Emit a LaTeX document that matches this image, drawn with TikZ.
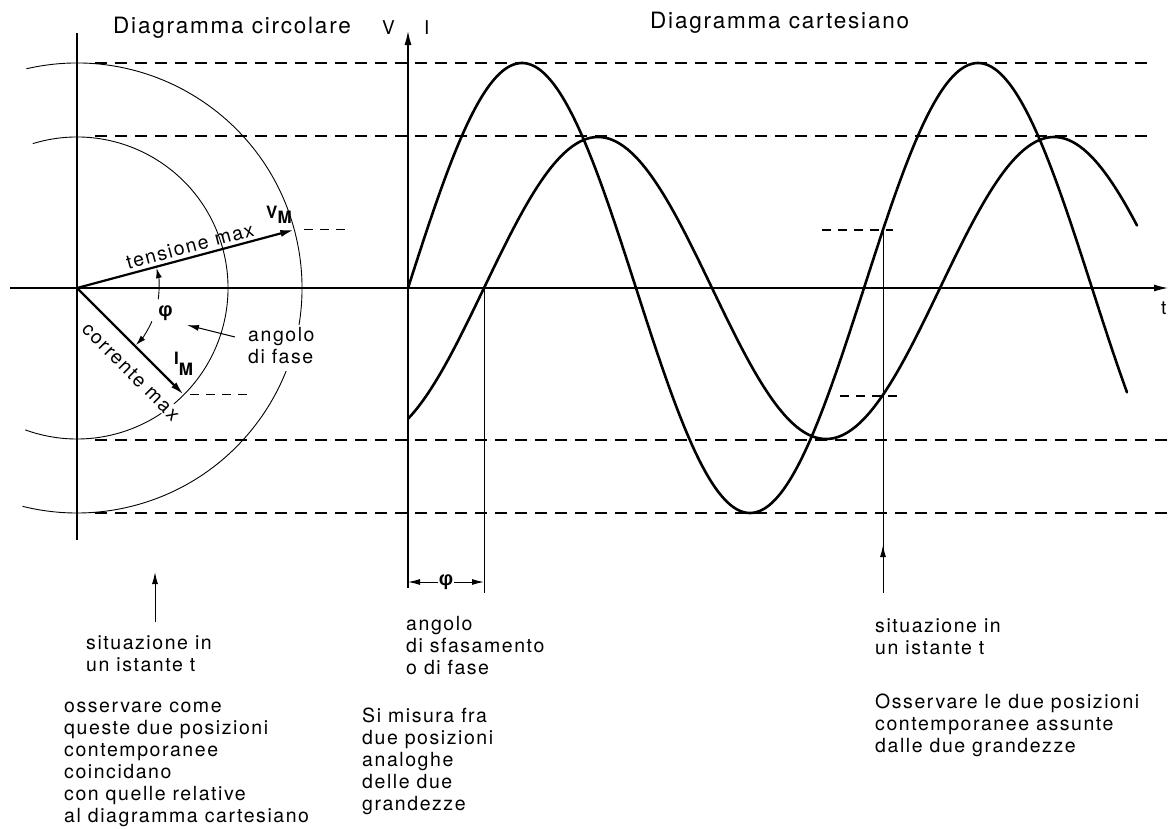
\documentclass[tikz,border=0pt]{standalone}
\usepackage{fontspec}
\setmainfont{TeX Gyre Heros}[LetterSpace=8]
\newfontfamily\grk{Liberation Sans}
\usetikzlibrary{arrows.meta,calc}
\begin{document}
\begin{tikzpicture}[x=1pt,y=-1pt,
  txt/.style={inner sep=0pt, font=\fontsize{19.5}{22}\selectfont, anchor=base west},
  ttl/.style={inner sep=0pt, font=\fontsize{22.5}{26}\selectfont, anchor=base west},
  lbl/.style={inner sep=0pt, font=\fontsize{19}{22}\selectfont, anchor=base west},
  sub/.style={inner sep=0pt, font=\fontsize{17}{20}\selectfont\bfseries, anchor=base west},
  greek/.style={inner sep=1pt, font=\fontsize{20}{24}\selectfont\grk\bfseries},
  curve/.style={line width=2.6pt, line join=round, line cap=round},
  vec/.style={line width=2.2pt, -{Latex[length=14pt,width=7pt]}},
  axisline/.style={line width=1.2pt},
  thinline/.style={line width=0.9pt},
  dsh/.style={line width=1.1pt, dash pattern=on 12pt off 8pt},
  dshs/.style={line width=1.1pt, dash pattern=on 9pt off 7pt},
  arr/.style={line width=1pt, -{Latex[length=12pt,width=6pt]}},
  arrs/.style={line width=0.9pt, -{Latex[length=10pt,width=6pt]}},
]
\useasboundingbox (0,0) rectangle (1168,828);
\fill[white] (0,0) rectangle (1168,828);

% ---------- coordinates ----------
\coordinate (O) at (77,288);
\coordinate (VM) at ($(O)+(15:225pt)$);
\coordinate (IM) at ($(O)+(-45:151pt)$);
\coordinate (hL) at (10,288);
\coordinate (hR) at (1168,288);
\coordinate (vT) at (77,33);
\coordinate (vB) at (77,540);
\coordinate (yB) at (408,588);
\coordinate (yT) at (408,31);
\coordinate (zI) at (484,288);
\coordinate (zIb) at (484,593);
\coordinate (tT) at (883,230);
\coordinate (tB) at (883,593);
\coordinate (tA) at (883,545);
\coordinate (bL) at (408,582);
\coordinate (bR) at (484,582);
\coordinate (a1) at (155,622);
\coordinate (a1t) at (155,572);
\coordinate (af) at (235,337);
\coordinate (aft) at (187,325);

% ---------- dashed levels ----------
\draw[dsh] (95,63) -- (1150,63);
\draw[dsh] (95,136) -- (1150,136);
\draw[dsh] (95,440) -- (1168,440);
\draw[dsh] (95,513) -- (1168,513);
\draw[dshs] ($(VM)+(10,0)$) -- ++(46,0);
\draw[dshs] ($(IM)+(6,0)$) -- ++(58,0);
\draw[dshs] (822,230) -- (893,230);
\draw[dshs] (840,396) -- (902,396);

% ---------- axes ----------
\draw[axisline,-{Latex[length=14pt,width=7pt]}] (hL) -- (hR);
\draw[axisline] (vT) -- (vB);
\draw[axisline,-{Latex[length=14pt,width=7pt]}] (yB) -- (yT);
\draw[thinline] (zI) -- (zIb);
\draw[thinline] (tT) -- (tB);
\draw[arr] (tB) -- (tA);

% ---------- circles ----------
\draw[thinline] (O) ++(103:225pt) arc[start angle=103,end angle=-104,radius=225pt];
\draw[thinline] (O) ++(107:151pt) arc[start angle=107,end angle=-110,radius=151pt];

% ---------- phase arc ----------
\draw[arrs] (O) ++(-8:82pt) arc[start angle=-8,end angle=14,radius=82pt];
\draw[arrs] (O) ++(-24:82pt) arc[start angle=-24,end angle=-44,radius=82pt];
\node[greek] (phi1) at ($(O)+(-16:92pt)$) {φ};

% ---------- sine curves ----------
\draw[curve] plot[domain=408:1127,samples=300] (\x,{288-225*sin(0.78947*(\x-408))});
\draw[curve] plot[domain=408:1137,samples=300] (\x,{288-151*sin(0.78947*(\x-484))});

% ---------- labels on circular diagram ----------
\node[inner sep=0pt, font=\fontsize{19.5}{22}\selectfont, rotate=15] (tm) at (190,246) {tensione max};
\node[inner sep=1pt, font=\fontsize{19.5}{22}\selectfont, rotate=-45, fill=white] (cm) at (131,372) {corrente max};

% ---------- vectors ----------
\draw[vec] (O) -- (VM);
\draw[vec] (O) -- (IM);
\node[sub] (vml) at (266,218) {V\raisebox{-5pt}{M}};
\node[sub] (iml) at (174,364) {I\raisebox{-11pt}{M}};

\node[txt, fill=white, inner sep=1pt] (ang) at (247,341) {\begin{tabular}[t]{@{}l@{}}angolo\\di fase\end{tabular}};
\draw[arr] (af) -- (aft);

% ---------- phi bracket ----------
\node[greek] (phi2) at (446,582) {φ};
\draw[arr] (phi2) -- (bL);
\draw[arr] (phi2) -- (bR);

% ---------- titles and axis labels ----------
\node[ttl] (t1) at (113,33) {Diagramma circolare};
\node[ttl] (t2) at (650,28) {Diagramma cartesiano};
\node[lbl] (lv) at (382,34) {V};
\node[lbl] (li) at (424,34) {I};
\node[lbl] (lt) at (1161,314) {t};

% ---------- bottom texts ----------
\draw[arr] (a1) -- (a1t);
\node[txt] (s1) at (86,649) {\begin{tabular}[t]{@{}l@{}}situazione in\\un istante t\end{tabular}};
\node[txt] (o1) at (64,712) {\begin{tabular}[t]{@{}l@{}}osservare come\\queste due posizioni\\contemporanee\\coincidano\\con quelle relative\\al diagramma cartesiano\end{tabular}};
\node[txt] (m1) at (406,630) {\begin{tabular}[t]{@{}l@{}}angolo\\di sfasamento\\o di fase\end{tabular}};
\node[txt] (m2) at (362,722) {\begin{tabular}[t]{@{}l@{}}Si misura fra\\due posizioni\\analoghe\\delle due\\grandezze\end{tabular}};
\node[txt] (r1) at (875,632) {\begin{tabular}[t]{@{}l@{}}situazione in\\un istante t\end{tabular}};
\node[txt] (r2) at (875,708) {\begin{tabular}[t]{@{}l@{}}Osservare le due posizioni\\contemporanee assunte\\dalle due grandezze\end{tabular}};
\end{tikzpicture}
\end{document}
